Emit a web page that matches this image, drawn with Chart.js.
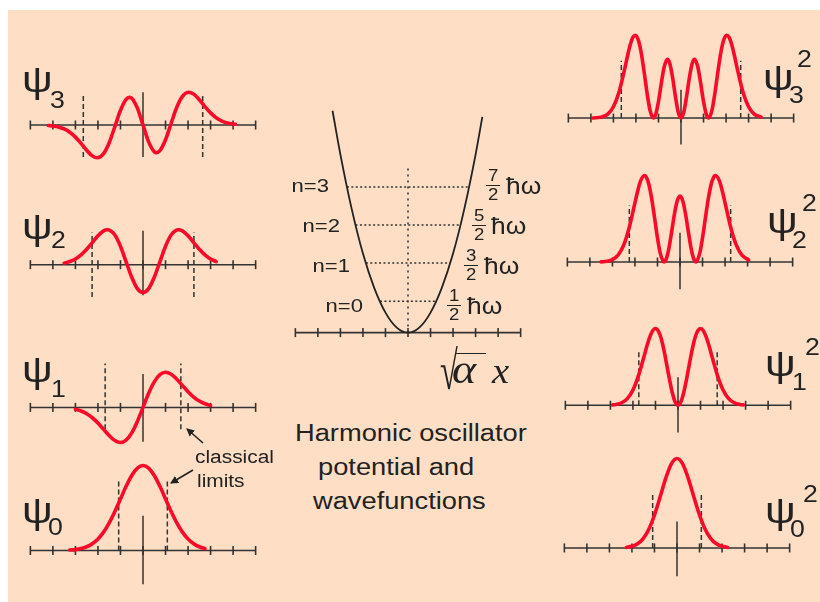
<!DOCTYPE html>
<html><head><meta charset="utf-8">
<script src="https://cdn.jsdelivr.net/npm/chart.js@4.4.1/dist/chart.umd.min.js"></script>
<style>
html,body{margin:0;padding:0;background:#fff;}
#stage{position:relative;width:820px;height:602px;overflow:hidden;background:#fff;}
#bg{position:absolute;left:8px;top:10px;right:0;bottom:0;background:#fedec4;}
canvas{position:absolute;}
.t{position:absolute;color:#222;line-height:1;white-space:nowrap;transform-origin:0 0;}
svg{position:absolute;left:0;top:0;}
</style></head>
<body><div id="stage"><div id="bg"></div></div>
<script>
// ---------------- DATA ----------------
const TICKS = [-5,-4,-3,-2,-1,0,1,2,3,4,5];

// left column: wavefunctions psi_n (amplitude units)
const psi3X = [-4.2,-4,-3.75,-3.5,-3.25,-3,-2.75,-2.5,-2.25,-2.03,-1.75,-1.5,-1.25,-1,-0.75,-0.6,-0.5,-0.25,0,0.25,0.5,0.6,0.75,1,1.25,1.5,1.75,2.03,2.25,2.5,2.75,3,3.25,3.5,3.75,4,4.1];
const psi3Y = [-0.6,-1.1,-2.3,-4.6,-8.4,-14.0,-21.3,-29.2,-35.7,-37.9,-33.1,-20.5,-2.0,17.0,29.7,32.0,30.9,19.5,0,-19.5,-30.9,-32.0,-29.7,-17.0,2.0,20.5,33.1,37.9,35.7,29.2,21.3,14.0,8.4,4.6,2.3,1.1,0.8];

const psi2X = [-3.5,-3.25,-3,-2.75,-2.5,-2.25,-2,-1.75,-1.58,-1.25,-1,-0.75,-0.5,-0.25,0,0.25,0.5,0.75,1,1.25,1.58,1.75,2,2.25,2.5,2.75,3,3.25];
const psi2Y = [1.8,3.6,6.6,11.3,17.7,25.4,33.2,38.8,40.1,34.1,21.2,3.3,-14.5,-27.5,-32,-27.5,-14.5,3.3,21.2,34.1,40.1,38.8,33.2,25.4,17.7,11.3,6.6,3.6];

const psi1X = [-3,-2.75,-2.5,-2.25,-2,-1.75,-1.5,-1.25,-1,-0.75,-0.5,-0.25,0,0.25,0.5,0.75,1,1.25,1.5,1.75,2,2.25,2.5,2.75,3];
const psi1Y = [-2.2,-4.1,-7.2,-11.8,-17.9,-25.0,-32.1,-37.8,-40.0,-37.4,-29.1,-16.0,0,16.0,29.1,37.4,40.0,37.8,32.1,25.0,17.9,11.8,7.2,4.1,2.2];

const psi0X = [-3.25,-3,-2.75,-2.5,-2.25,-2,-1.75,-1.5,-1.25,-1,-0.75,-0.5,-0.25,0,0.25,0.5,0.75,1,1.25,1.5,1.75,2,2.25,2.5,2.75];
const psi0Y = [0.5,1.0,2.1,4.1,7.4,12.6,20.1,30.2,42.6,56.4,70.2,82.1,90.1,93,90.1,82.1,70.2,56.4,42.6,30.2,20.1,12.6,7.4,4.1,2.1];

// right column: probability densities psi_n^2
const prob3X = [-3.9,-3.5,-3.25,-3,-2.75,-2.5,-2.375,-2.25,-2.125,-2.03,-1.875,-1.75,-1.625,-1.5,-1.375,-1.2247,-1.125,-1,-0.875,-0.75,-0.6,-0.5,-0.375,-0.25,-0.125,0,0.125,0.25,0.375,0.5,0.6,0.75,0.875,1,1.125,1.2247,1.375,1.5,1.625,1.75,1.875,2.03,2.125,2.25,2.375,2.5,2.75,3,3.25,3.56];
const prob3Y = [0.1,1.3,4.4,12.4,28.6,54.0,68.2,80.8,89.2,91.0,84.2,69.4,48.6,26.5,8.6,0,3.9,18.2,38.1,55.9,64.7,60.3,44.8,24.1,6.7,0,6.7,24.1,44.8,60.3,64.7,55.9,38.1,18.2,3.9,0,8.6,26.5,48.6,69.4,84.2,91.0,89.2,80.8,68.2,54.0,28.6,12.4,4.4,1.1];

const prob2X = [-3.5,-3.25,-3,-2.75,-2.5,-2.25,-2,-1.875,-1.75,-1.58,-1.5,-1.375,-1.25,-1.125,-1,-0.875,-0.7071,-0.625,-0.5,-0.375,-0.25,-0.125,0,0.125,0.25,0.375,0.5,0.625,0.7071,0.875,1,1.125,1.25,1.375,1.5,1.58,1.75,1.875,2,2.25,2.5,2.75,3.05];
const prob2Y = [0.2,0.8,2.6,7.5,18.5,38.2,65.0,78.3,89.0,95,93.5,84.6,68.5,47.9,26.6,9.5,0,2.3,14.1,32.5,52.1,66.9,72.4,66.9,52.1,32.5,14.1,2.3,0,9.5,26.6,47.9,68.5,84.6,93.5,95,89.0,78.3,65.0,38.2,18.5,7.5,2.3];

const prob1X = [-2.9,-2.75,-2.5,-2.25,-2,-1.75,-1.5,-1.375,-1.25,-1.125,-1,-0.875,-0.75,-0.625,-0.5,-0.375,-0.25,-0.125,0,0.125,0.25,0.375,0.5,0.625,0.75,0.875,1,1.125,1.25,1.375,1.5,1.75,2,2.25,2.5,2.75,2.9];
const prob1Y = [0.4,0.9,2.8,7.4,16.9,33.1,54.8,66.0,75.7,82.5,85,82.3,74.1,61.1,45.0,28.2,13.6,3.6,0,3.6,13.6,28.2,45.0,61.1,74.1,82.3,85,82.5,75.7,66.0,54.8,33.1,16.9,7.4,2.8,0.9,0.4];

const prob0X = [-2.25,-2,-1.75,-1.5,-1.25,-1,-0.75,-0.5,-0.25,0,0.25,0.5,0.75,1,1.25,1.5,1.75,2,2.25];
const prob0Y = [0.6,1.8,4.6,10.3,20.5,36.1,55.8,76.3,92.1,98,92.1,76.3,55.8,36.1,20.5,10.3,4.6,1.8,0.6];

// classical turning points (in sqrt(alpha) x units)
const leftLimits  = [1.08, 1.68, 2.26, 2.65];   // n = 0..3
const rightLimits = [1.08, 1.74, 2.25, 2.65];

// centre: potential V(x) and energy levels
const potX = [-3.35,-3,-2.5,-2,-1.5,-1,-0.5,0,0.5,1,1.5,2,2.5,3,3.3];
const potY = [233,187,130,83,47,21,5.2,0,5.2,21,47,83,130,187,226.5];
const levelN = ['n=0','n=1','n=2','n=3'];
const levelE = [33,73,113,153];
const levelHalfWidth = [1.24,1.87,2.33,2.71];
const levelNum = ['1','3','5','7'];

// ---------------- STYLE / LAYOUT ----------------
const RED = '#f80a28', AX = '#333333';
const stage = document.getElementById('stage');
const SX = 1.16;
const W = 260;

function pts(xs, ys){ return xs.map((x,i)=>({x:x, y:ys[i]})); }
function seg(x1,y1,x2,y2){ return [{x:x1,y:y1},{x:x2,y:y2}]; }

function curveDS(xs, ys){
  return {data:pts(xs,ys), borderColor:RED, borderWidth:3.6, pointRadius:0, cubicInterpolationMode:'monotone', borderCapStyle:'round', clip:false, fill:false};
}
function lineDS(data, dash, width){
  return {data:data, borderColor:AX, borderWidth:width||1.5, borderDash:dash||[], pointRadius:0, tension:0, clip:false, fill:false};
}
function ticksDS(){
  return {data:TICKS.map(t=>({x:t,y:0})), showLine:false, pointStyle:'line', pointRotation:90, pointRadius:4.5, pointBorderWidth:1.6, pointBorderColor:AX, pointBackgroundColor:AX, clip:false};
}

function makeChart(cx, axisY, yMin, yMax, datasets){
  const h = yMax - yMin;
  const cv = document.createElement('canvas');
  cv.width = W; cv.height = h;
  cv.style.left = (cx - W/2) + 'px';
  cv.style.top = (axisY - yMax) + 'px';
  cv.style.width = W + 'px'; cv.style.height = h + 'px';
  stage.appendChild(cv);
  new Chart(cv, {
    type:'line',
    data:{datasets:datasets},
    options:{
      responsive:false, animation:false, events:[],
      layout:{padding:0},
      plugins:{legend:{display:false}, tooltip:{enabled:false}},
      scales:{
        x:{type:'linear', min:-5.5, max:5.5, display:false},
        y:{type:'linear', min:yMin, max:yMax, display:false}
      }
    }
  });
}

function panel(p){
  const ds = [curveDS(p.xs, p.ys), lineDS(seg(0,p.vLo,0,p.vHi))];
  ds.push(lineDS(seg(-p.lim,p.dLo,-p.lim,p.dHi),[5,3]));
  ds.push(lineDS(seg(p.lim,p.dLo,p.lim,p.dHi),[5,3]));
  ds.push(ticksDS());
  ds.push(lineDS(seg(-5,0,5,0)));
  makeChart(p.cx, p.axisY, p.yMin, p.yMax, ds);
}

// left column
panel({xs:psi3X, ys:psi3Y, cx:143, axisY:125, yMin:-45, yMax:45, vLo:-37, vHi:38, lim:leftLimits[3], dLo:-37, dHi:37});
panel({xs:psi2X, ys:psi2Y, cx:143, axisY:265, yMin:-45, yMax:50, vLo:-35, vHi:39, lim:leftLimits[2], dLo:-37, dHi:37});
panel({xs:psi1X, ys:psi1Y, cx:143, axisY:408, yMin:-45, yMax:55, vLo:-39, vHi:38, lim:leftLimits[1], dLo:-25, dHi:50});
panel({xs:psi0X, ys:psi0Y, cx:143, axisY:553, yMin:-42, yMax:100, vLo:-37, vHi:38, lim:leftLimits[0], dLo:0, dHi:76});
// right column
panel({xs:prob3X, ys:prob3Y, cx:681, axisY:121, yMin:-35, yMax:100, vLo:-29, vHi:31, lim:rightLimits[3], dLo:0, dHi:63});
panel({xs:prob2X, ys:prob2Y, cx:680, axisY:265, yMin:-35, yMax:102, vLo:-30, vHi:32, lim:rightLimits[2], dLo:0, dHi:62});
panel({xs:prob1X, ys:prob1Y, cx:678, axisY:408, yMin:-35, yMax:92, vLo:-30, vHi:31, lim:rightLimits[1], dLo:0, dHi:61});
panel({xs:prob0X, ys:prob0Y, cx:677, axisY:551, yMin:-35, yMax:105, vLo:-31, vHi:29, lim:rightLimits[0], dLo:0, dHi:59});

// centre potential
(function(){
  const ds = [{data:pts(potX,potY), borderColor:'#222', borderWidth:1.8, pointRadius:0, cubicInterpolationMode:'monotone', clip:false, fill:false}];
  levelE.forEach((e,i)=>{ ds.push(lineDS(seg(-levelHalfWidth[i],e,levelHalfWidth[i],e),[2,2.4],1.5)); });
  ds.push(lineDS(seg(0,0,0,176),[2,4],1.5));
  ds.push(ticksDS());
  ds.push(lineDS(seg(-5,0,5,0),[],1.6));
  makeChart(408, 338, -15, 240, ds);
})();

// ---------------- TEXT ----------------
const SANS = '"Liberation Sans", Arial, Helvetica, sans-serif';
const SERIF = '"Liberation Serif", "Times New Roman", serif';
function txt(s, x, base, size, o){
  o = o || {};
  const d = document.createElement('div');
  d.className = 't';
  d.style.fontFamily = o.serif ? SERIF : SANS;
  d.style.fontSize = size + 'px';
  if (o.italic) d.style.fontStyle = 'italic';
  const k = o.serif ? 0.8375 : 0.8465;
  d.style.top = (base - k*size) + 'px';
  d.style.left = x + 'px';
  d.style.transform = 'scaleX(' + (o.sx || SX) + ')';
  if (o.html) d.innerHTML = s; else d.textContent = s;
  stage.appendChild(d);
  return d;
}

// psi labels, left
const PSI = 'ψ';
const leftLab = [
  {n:'3', x:22, b:92,  sx:50, sb:108},
  {n:'2', x:22, b:239, sx:51, sb:248},
  {n:'1', x:22, b:382, sx:51, sb:397},
  {n:'0', x:22, b:523, sx:48, sb:535}
];
leftLab.forEach(l=>{ txt(PSI, l.x, l.b, 37); txt(l.n, l.sx, l.sb, 23); });
// psi^2 labels, right
const rightLab = [
  {n:'3', x:763, b:90,  sx:789, sb:103, px:797, pb:67},
  {n:'2', x:767, b:233, sx:792, sb:248, px:802, pb:211},
  {n:'1', x:765, b:376, sx:792, sb:390, px:805, pb:355},
  {n:'0', x:765, b:523, sx:790, sb:537, px:803, pb:502}
];
rightLab.forEach(l=>{ txt(PSI, l.x, l.b, 37); txt(l.n, l.sx, l.sb, 23); txt('2', l.px, l.pb, 23); });

// centre labels
const levelLabelRight = [363, 350, 340, 329];
const levelY = [305, 265, 225, 185];
const fracCx = [454, 471, 479, 493];
const hbarX = [467, 484, 491, 506];
levelN.forEach((s,i)=>{
  const d = txt(s, 0, levelY[i]+7, 19);
  d.style.left = levelLabelRight[i] + 'px';
  d.style.transformOrigin = '100% 0';
  d.style.transform = 'translateX(-100%) scaleX(' + SX + ')';
  const fs = 16, dw = 0.556*fs*SX;
  txt(levelNum[i], fracCx[i] - dw/2, levelY[i] - 3, fs);
  txt('2', fracCx[i] - dw/2, levelY[i] + 16, fs);
  const bar = document.createElement('div');
  bar.style.cssText = 'position:absolute;height:1.4px;background:#222;left:'+(fracCx[i]-7)+'px;top:'+(levelY[i]-0.5)+'px;width:14px;';
  stage.appendChild(bar);
  txt('ħω', hbarX[i], levelY[i] + 9, 24, {sx:1.1});
});

// axis label sqrt(alpha) x
txt('√', 440, 389, 54, {serif:true, sx:0.6});
txt('α', 452, 383, 40, {serif:true, italic:true, sx:1.15});
(function(){
  const bar = document.createElement('div');
  bar.style.cssText = 'position:absolute;height:1.8px;background:#222;left:455px;top:352.5px;width:31px;';
  stage.appendChild(bar);
})();
txt('x', 492, 383, 35, {serif:true, italic:true, sx:1.1});

// title
txt('Harmonic oscillator', 295, 442, 23.5);
txt('potential and', 318, 476, 23.5);
txt('wavefunctions', 313, 510, 23.5);

// classical limits
txt('classical', 195, 463, 18);
txt('limits', 197, 487, 18);
</script>
<svg width="820" height="602" viewBox="0 0 820 602">
  <defs><marker id="ah" markerWidth="8" markerHeight="8" refX="7" refY="4" orient="auto" markerUnits="userSpaceOnUse">
    <path d="M0,0 L8,4 L0,8 z" fill="#222"/></marker></defs>
  <line x1="203" y1="443" x2="187" y2="429" stroke="#222" stroke-width="1.6" marker-end="url(#ah)"/>
  <line x1="193" y1="470" x2="171" y2="483" stroke="#222" stroke-width="1.6" marker-end="url(#ah)"/>
</svg>
</body></html>
